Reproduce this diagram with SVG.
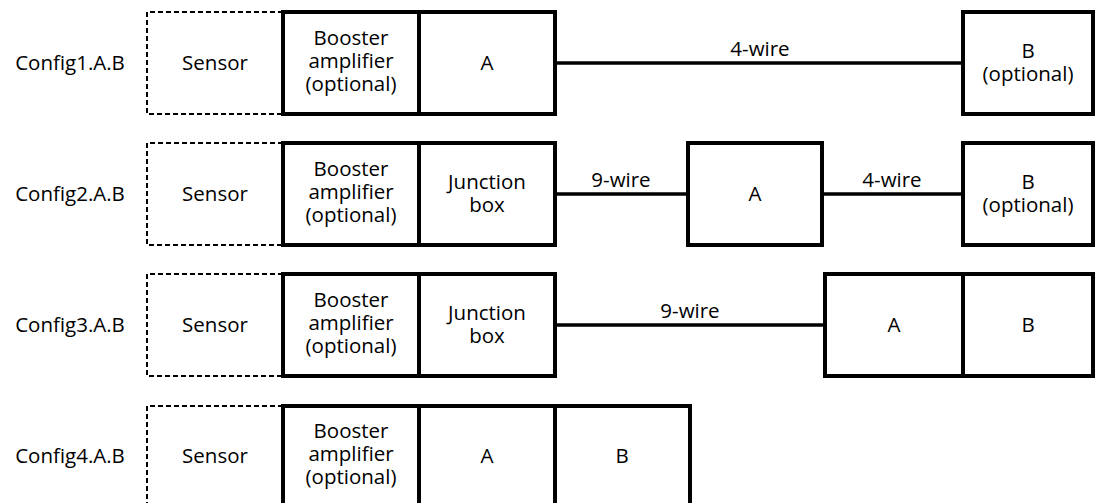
<svg xmlns="http://www.w3.org/2000/svg" width="1098" height="503" viewBox="0 0 1098 503">
<style>
text{font-family:"Open Sans","Noto Sans","Liberation Sans",sans-serif;font-size:20.5px;fill:#000;text-anchor:middle}
.box{fill:none;stroke:#000;stroke-width:4}
.dash{fill:none;stroke:#000;stroke-width:2;stroke-dasharray:5,3}
.wire{fill:none;stroke:#000;stroke-width:3.4}
</style>
<rect width="1098" height="503" fill="#fff"/>
<g id="connectors">
<line class="wire" x1="555" y1="63" x2="963" y2="63"/>
<text x="760" y="56">4-wire</text>
<line class="wire" x1="555" y1="194" x2="688" y2="194"/>
<text x="621" y="187">9-wire</text>
<line class="wire" x1="822" y1="194" x2="963" y2="194"/>
<text x="892" y="187">4-wire</text>
<line class="wire" x1="555" y1="325" x2="825" y2="325"/>
<text x="690" y="318">9-wire</text>
</g>
<!-- Row 1 -->
<g id="label1"><text x="70" y="70">Config1.A.B</text></g>
<g id="sensor1"><path class="dash" d="M283,12 H147 V114 H283"/><text x="215" y="70">Sensor</text></g>
<g id="booster1"><rect class="box" x="283" y="12" width="136" height="102"/><text x="351" y="45">Booster</text><text x="351" y="68">amplifier</text><text x="351" y="91">(optional)</text></g>
<g id="a1"><rect class="box" x="419" y="12" width="136" height="102"/><text x="487" y="70">A</text></g>
<g id="b1"><rect class="box" x="963" y="12" width="130" height="102"/><text x="1028" y="58">B</text><text x="1028" y="81">(optional)</text></g>
<!-- Row 2 -->
<g id="label2"><text x="70" y="201">Config2.A.B</text></g>
<g id="sensor2"><path class="dash" d="M283,143 H147 V245 H283"/><text x="215" y="201">Sensor</text></g>
<g id="booster2"><rect class="box" x="283" y="143" width="136" height="102"/><text x="351" y="176">Booster</text><text x="351" y="199">amplifier</text><text x="351" y="222">(optional)</text></g>
<g id="junction2"><rect class="box" x="419" y="143" width="136" height="102"/><text x="487" y="189">Junction</text><text x="487" y="212">box</text></g>
<g id="a2"><rect class="box" x="688" y="143" width="134" height="102"/><text x="755" y="201">A</text></g>
<g id="b2"><rect class="box" x="963" y="143" width="130" height="102"/><text x="1028" y="189">B</text><text x="1028" y="212">(optional)</text></g>
<!-- Row 3 -->
<g id="label3"><text x="70" y="332">Config3.A.B</text></g>
<g id="sensor3"><path class="dash" d="M283,274 H147 V376 H283"/><text x="215" y="332">Sensor</text></g>
<g id="booster3"><rect class="box" x="283" y="274" width="136" height="102"/><text x="351" y="307">Booster</text><text x="351" y="330">amplifier</text><text x="351" y="353">(optional)</text></g>
<g id="junction3"><rect class="box" x="419" y="274" width="136" height="102"/><text x="487" y="320">Junction</text><text x="487" y="343">box</text></g>
<g id="a3"><rect class="box" x="825" y="274" width="138" height="102"/><text x="894" y="332">A</text></g>
<g id="b3"><rect class="box" x="963" y="274" width="130" height="102"/><text x="1028" y="332">B</text></g>
<!-- Row 4 -->
<g id="label4"><text x="70" y="463">Config4.A.B</text></g>
<g id="sensor4"><path class="dash" d="M283,406 H147 V508"/><text x="215" y="463">Sensor</text></g>
<g id="booster4"><rect class="box" x="283" y="406" width="136" height="102"/><text x="351" y="438">Booster</text><text x="351" y="461">amplifier</text><text x="351" y="484">(optional)</text></g>
<g id="a4"><rect class="box" x="419" y="406" width="136" height="102"/><text x="487" y="463">A</text></g>
<g id="b4"><rect class="box" x="555" y="406" width="135" height="102"/><text x="622" y="463">B</text></g>
</svg>
